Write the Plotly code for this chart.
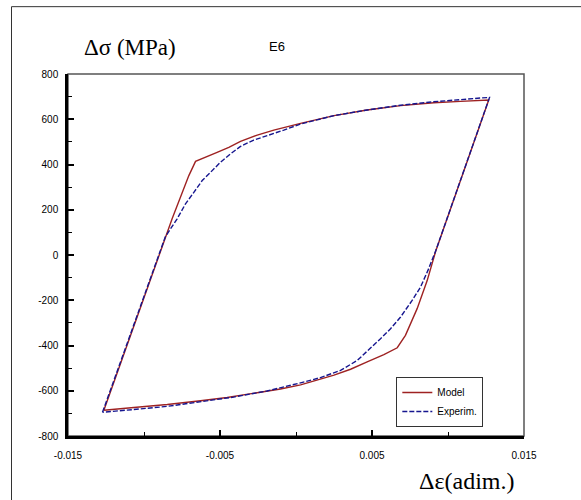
import plotly.graph_objects as go

# ---- data (strain, stress) ----
model_strain = [-0.01264, -0.01007, -0.0090, -0.00815, -0.00705, -0.00661, -0.00519, -0.00442,
                -0.00365, -0.00255, -0.00146, -0.00036, 0.0003, 0.0025, 0.00468, 0.00688,
                0.00907, 0.01082, 0.01192, 0.01268,
                0.0092, 0.00863, 0.00797, 0.0072, 0.00666, 0.00578, 0.00468, 0.00359,
                0.0025, 0.0014, 0.0003, -0.00102, -0.00278, -0.00453, -0.00628, -0.00847,
                -0.01067, -0.01242, -0.01264]
model_stress = [-686, -200, 0, 160, 351, 414, 454, 476,
                502, 530, 552, 571, 582, 616, 641, 660,
                673, 679, 681, 685,
                19, -113, -237, -355, -410, -440, -472, -505,
                -531, -554, -574, -592, -612, -630, -644, -661,
                -674, -683, -686]

exp_strain = [-0.01273, -0.01007, -0.0090, -0.0086, -0.00782, -0.00727, -0.00672, -0.00617,
              -0.00563, -0.00497, -0.00431, -0.00365, -0.00278, -0.0019, -0.0008, 0.0003,
              0.0014, 0.0025, 0.00468, 0.00688, 0.0090, 0.0102, 0.01126, 0.01214, 0.01273,
              0.0092, 0.00868, 0.00819, 0.00764, 0.00688, 0.00622, 0.00556, 0.0048,
              0.00403, 0.00293, 0.00161, 0.0003, -0.0019, -0.0041, -0.00628, -0.00847,
              -0.01067, -0.01242, -0.01273]
exp_stress = [-695, -200, 0, 80, 160, 226, 277, 329,
              365, 410, 447, 480, 508, 527, 552, 579,
              597, 616, 641, 662, 677, 685, 689, 694, 696,
              20, -68, -142, -201, -274, -326, -370, -420,
              -466, -510, -542, -565, -601, -628, -650, -669,
              -683, -694, -695]

x_tickvals = [-0.015, -0.005, 0.005, 0.015]
x_ticktext = ["-0.015", "-0.005", "0.005", "0.015"]
y_tickvals = [-800, -600, -400, -200, 0, 200, 400, 600, 800]
y_ticktext = ["-800", "-600", "-400", "-200", "0", "200", "400", "600", "800"]

fig = go.Figure()
fig.add_trace(go.Scatter(x=model_strain, y=model_stress, mode="lines", name="Model",
                         line=dict(color="#9e2222", width=1.4)))
fig.add_trace(go.Scatter(x=exp_strain, y=exp_stress, mode="lines", name="Experim.",
                         line=dict(color="#16168f", width=1.4, dash="5px,2px")))

tickfont = dict(family="Liberation Sans, Arial", size=10, color="#000")

fig.update_xaxes(range=[-0.015, 0.015], showgrid=False, zeroline=False,
                 showline=True, linecolor="#000", linewidth=2.5,
                 tickmode="array", tickvals=x_tickvals, ticktext=x_ticktext,
                 ticks="inside", ticklen=6, tickwidth=1.5, tickcolor="#000",
                 ticklabelstandoff=8, tickfont=tickfont,
                 minor=dict(tickmode="linear", tick0=-0.015, dtick=0.005, ticks="inside",
                            ticklen=4, tickwidth=1, tickcolor="#000"))
fig.update_yaxes(range=[-800, 800], showgrid=False, zeroline=False,
                 showline=True, linecolor="#000", linewidth=2.5,
                 tickmode="array", tickvals=y_tickvals, ticktext=y_ticktext,
                 ticks="inside", ticklen=6, tickwidth=1.5, tickcolor="#000",
                 ticklabelstandoff=5, tickfont=tickfont,
                 minor=dict(tickmode="linear", tick0=-800, dtick=100, ticks="inside",
                            ticklen=4, tickwidth=1, tickcolor="#000"))

fig.update_layout(
    width=581, height=500,
    margin=dict(l=68, r=57, t=74, b=64),
    paper_bgcolor="white", plot_bgcolor="white",
    showlegend=True,
    legend=dict(x=0.72, y=0.163, xanchor="left", yanchor="top",
                bgcolor="white", bordercolor="#333", borderwidth=1,
                font=dict(family="Liberation Sans, Arial", size=10, color="#000"),
                itemwidth=30, tracegroupgap=0),
    shapes=[
        dict(type="rect", xref="paper", yref="paper", x0=0, x1=1, y0=0, y1=1,
             line=dict(color="#555", width=1.5), layer="below"),
        dict(type="rect", xref="paper", yref="paper", x0=-0.1239, x1=1.2, y0=-0.3, y1=1.186,
             line=dict(color="#333", width=1), layer="below"),
    ],
    annotations=[
        dict(text="Δσ (MPa)", xref="paper", yref="paper", x=0.135, y=1.073,
             xanchor="center", yanchor="middle", showarrow=False,
             font=dict(family="Liberation Serif, Times New Roman", size=23, color="#000")),
        dict(text="E6", xref="paper", yref="paper", x=0.459, y=1.076,
             xanchor="center", yanchor="middle", showarrow=False,
             font=dict(family="Liberation Sans, Arial", size=13, color="#000")),
        dict(text="Δε(adim.)", xref="paper", yref="paper", x=0.874, y=-0.124,
             xanchor="center", yanchor="middle", showarrow=False,
             font=dict(family="Liberation Serif, Times New Roman", size=24, color="#000")),
    ],
)

fig.write_html("out.html")
